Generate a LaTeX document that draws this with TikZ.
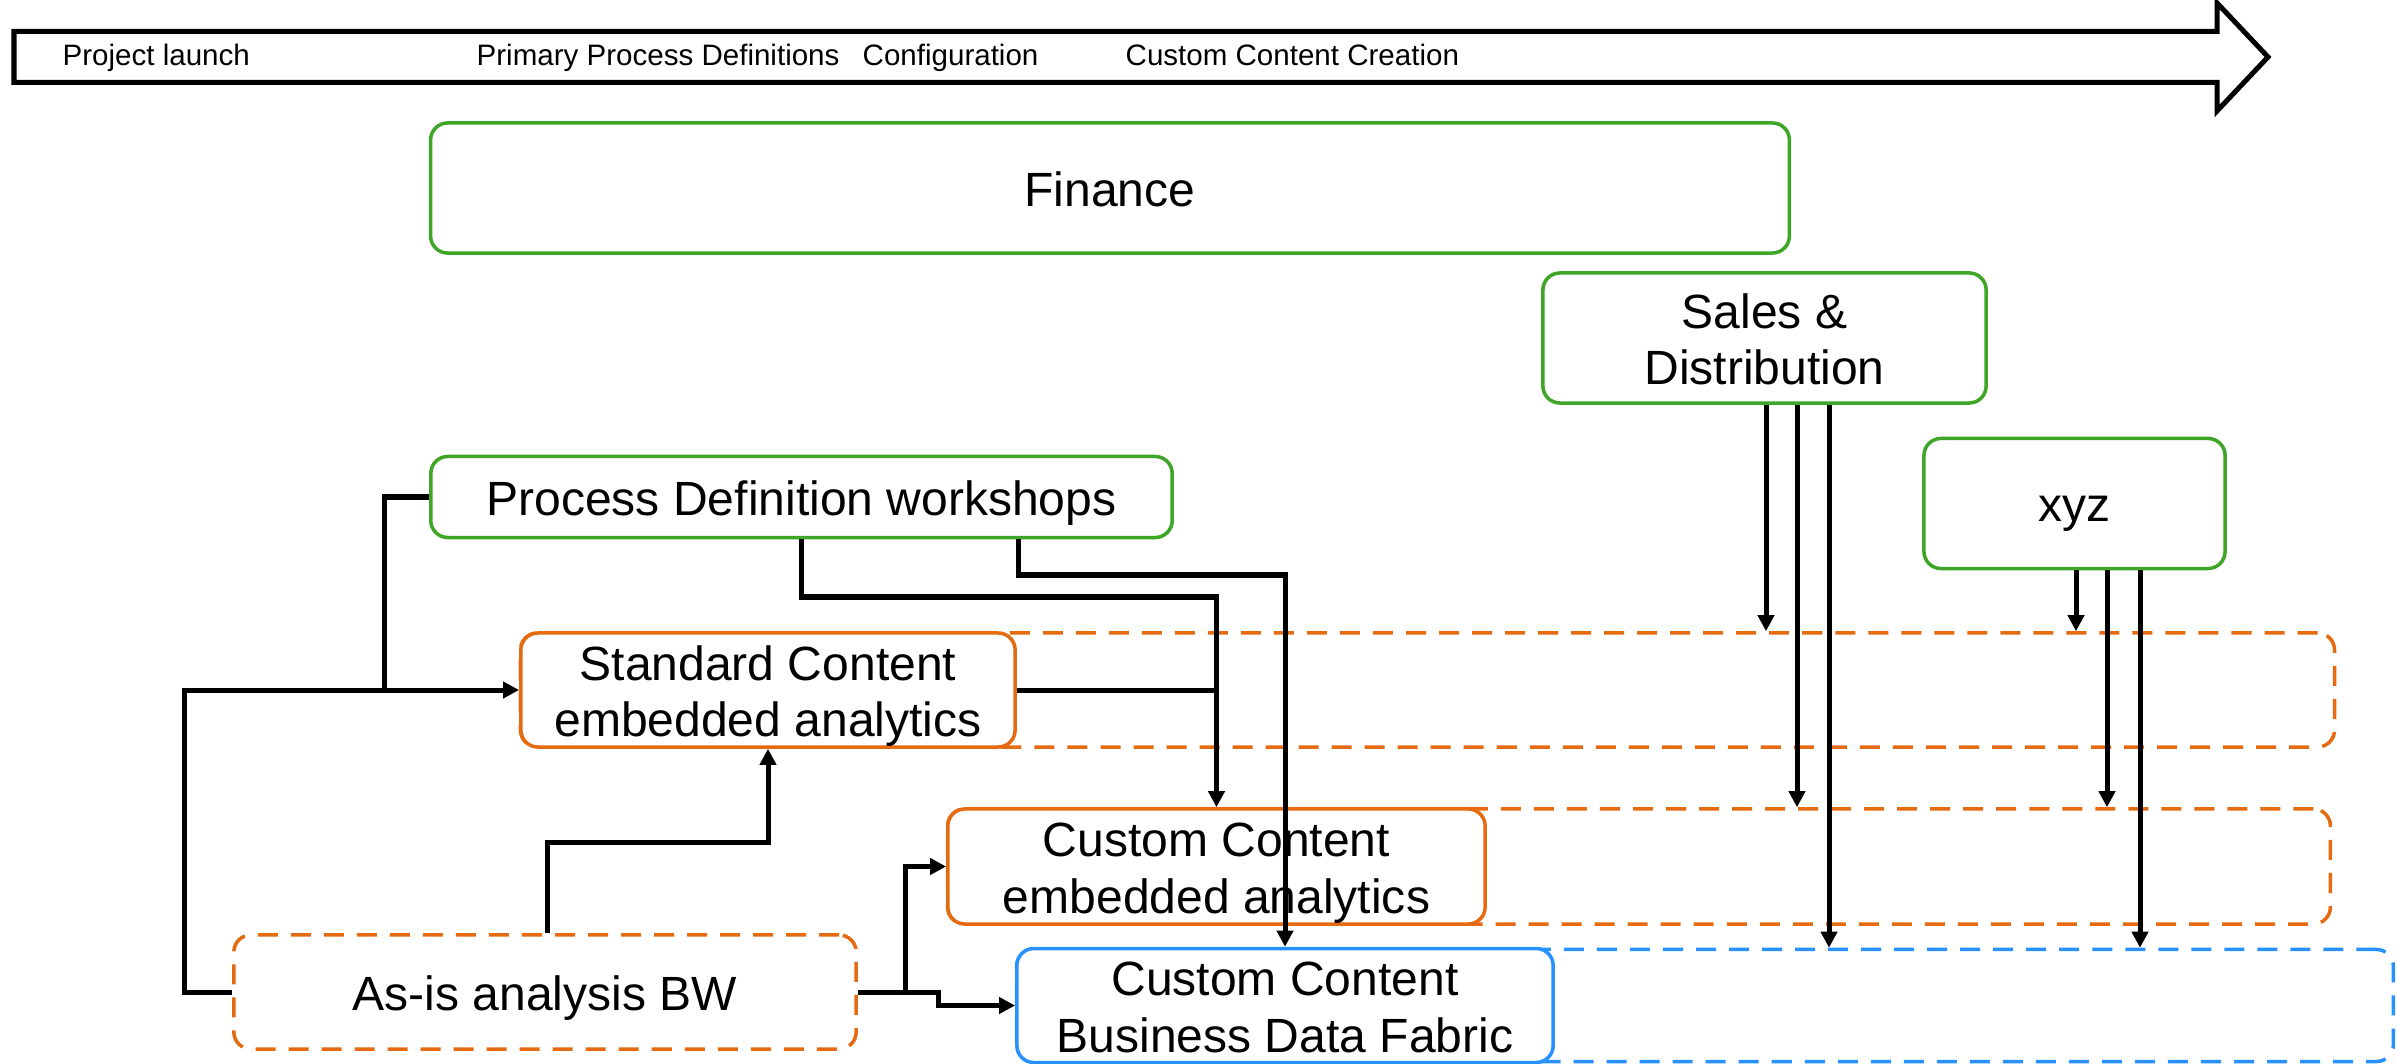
\documentclass[tikz,border=0pt]{standalone}
\usepackage{fontspec}
\setmainfont{Liberation Sans}
\usetikzlibrary{arrows.meta}

\definecolor{boxgreen}{RGB}{62,165,38}
\definecolor{boxorange}{RGB}{230,106,16}
\definecolor{boxblue}{RGB}{40,145,255}

% struts that keep the text block evenly placed in every box
\newcommand{\firststrut}{\rule{0pt}{0.46cm}}
\newcommand{\topstrut}{\rule{0pt}{0.47cm}}
\newcommand{\laststrut}{\rule[-0.10cm]{0pt}{0.10cm}}

\tikzset{
  box/.style={draw, line width=0.035cm, rounded corners=0.17cm, fill=white,
    align=center, inner sep=0pt,
    font=\fontsize{13.66pt}{16.2pt}\selectfont,
    execute at begin node=\firststrut,
    execute at end node=\laststrut},
  greenbox/.style={box, draw=boxgreen},
  orangebox/.style={box, draw=boxorange},
  bluebox/.style={box, draw=boxblue},
  lane/.style={draw, line width=0.035cm, rounded corners=0.17cm,
    dash pattern=on 0.2cm off 0.13cm, inner sep=0pt},
  phase/.style={anchor=base west, inner sep=0pt,
    font=\fontsize{8.4pt}{10pt}\selectfont},
  conn/.style={draw=black, line width=0.05cm},
  arr/.style={conn, -{Triangle[length=0.16cm, width=0.16cm]}},
}

\begin{document}
\begin{tikzpicture}[x=0.01cm, y=-0.01cm]
\useasboundingbox (0,0) rectangle (2397,1064);

% timeline arrow
\draw[line width=0.05cm, miter limit=10]
  (14,31.5) -- (2217,31.5) -- (2217,3) -- (2268,57) -- (2217,111)
  -- (2217,82.5) -- (14,82.5) -- cycle;
\node[phase] (ph1) at (62,66) {Project launch};
\node[phase] (ph2) at (476,66) {Primary Process Definitions};
\node[phase] (ph3) at (862,66) {Configuration};
\node[phase] (ph4) at (1125,66) {Custom Content Creation};

% dashed lanes behind the content boxes
\node[lane, draw=boxorange, minimum width=18.13cm, minimum height=1.14cm]
  (stdrow) at (1427.5,690) {};
\node[lane, draw=boxorange, minimum width=13.82cm, minimum height=1.15cm]
  (cearow) at (1639,866.5) {};
\node[lane, draw=boxblue, minimum width=13.76cm, minimum height=1.12cm]
  (bdfrow) at (1705,1005.5) {};

% process areas
\node[greenbox, minimum width=13.58cm, minimum height=1.30cm]
  (fin) at (1110,188) {Finance};
\node[greenbox, minimum width=4.43cm, minimum height=1.30cm]
  (sd) at (1764.5,338) {\topstrut Sales \&\\Distribution\laststrut};
\node[greenbox, minimum width=3.01cm, minimum height=1.30cm]
  (xyz) at (2074.5,503.5) {xyz};
\node[greenbox, minimum width=7.41cm, minimum height=0.81cm]
  (pd) at (801.5,497) {Process Definition workshops};

% content boxes
\node[orangebox, minimum width=4.94cm, minimum height=1.14cm]
  (std) at (768,690) {\topstrut Standard Content\\embedded analytics\laststrut};
\node[orangebox, minimum width=5.37cm, minimum height=1.15cm]
  (cea) at (1216.5,866.5) {\topstrut Custom Content\\embedded analytics\laststrut};
\node[bluebox, minimum width=5.36cm, minimum height=1.12cm]
  (bdf) at (1285,1005.5) {\topstrut Custom Content\\Business Data Fabric\laststrut};
\node[box, draw=boxorange, dash pattern=on 0.2cm off 0.13cm,
  minimum width=6.22cm, minimum height=1.14cm]
  (asis) at (545,992) {As-is analysis BW};

% routing points
\coordinate (jl) at (384,690);
\coordinate (a1) at (547,842);
\coordinate (p1) at (801,597);
\coordinate (p2) at (1018,575);
\coordinate (s1) at (1766,0);
\coordinate (s2) at (1797,0);
\coordinate (s3) at (1829,0);
\coordinate (x1) at (2076,0);
\coordinate (x2) at (2107,0);
\coordinate (x3) at (2140,0);

% connectors
\draw[conn] (pd.west) -| (jl);
\draw[arr] (asis.west) -- ++(-48,0) |- (std.west);
\draw[arr] (a1 |- asis.north) -- (a1) -| (std.south);
\draw[arr] (asis.east) -- ++(48,0) |- (cea.west);
\draw[arr] (asis.east) -- ++(81,0) |- (bdf.west);
\draw[arr] (p1 |- pd.south) -- (p1) -| (cea.north);
\draw[conn] (std.east) -- (std.east -| cea.north);
\draw[arr] (p2 |- pd.south) -- (p2) -| (bdf.north);

\draw[arr] (s1 |- sd.south) -- (s1 |- stdrow.north);
\draw[arr] (s2 |- sd.south) -- (s2 |- cearow.north);
\draw[arr] (s3 |- sd.south) -- (s3 |- bdfrow.north);
\draw[arr] (x1 |- xyz.south) -- (x1 |- stdrow.north);
\draw[arr] (x2 |- xyz.south) -- (x2 |- cearow.north);
\draw[arr] (x3 |- xyz.south) -- (x3 |- bdfrow.north);
\end{tikzpicture}
\end{document}
